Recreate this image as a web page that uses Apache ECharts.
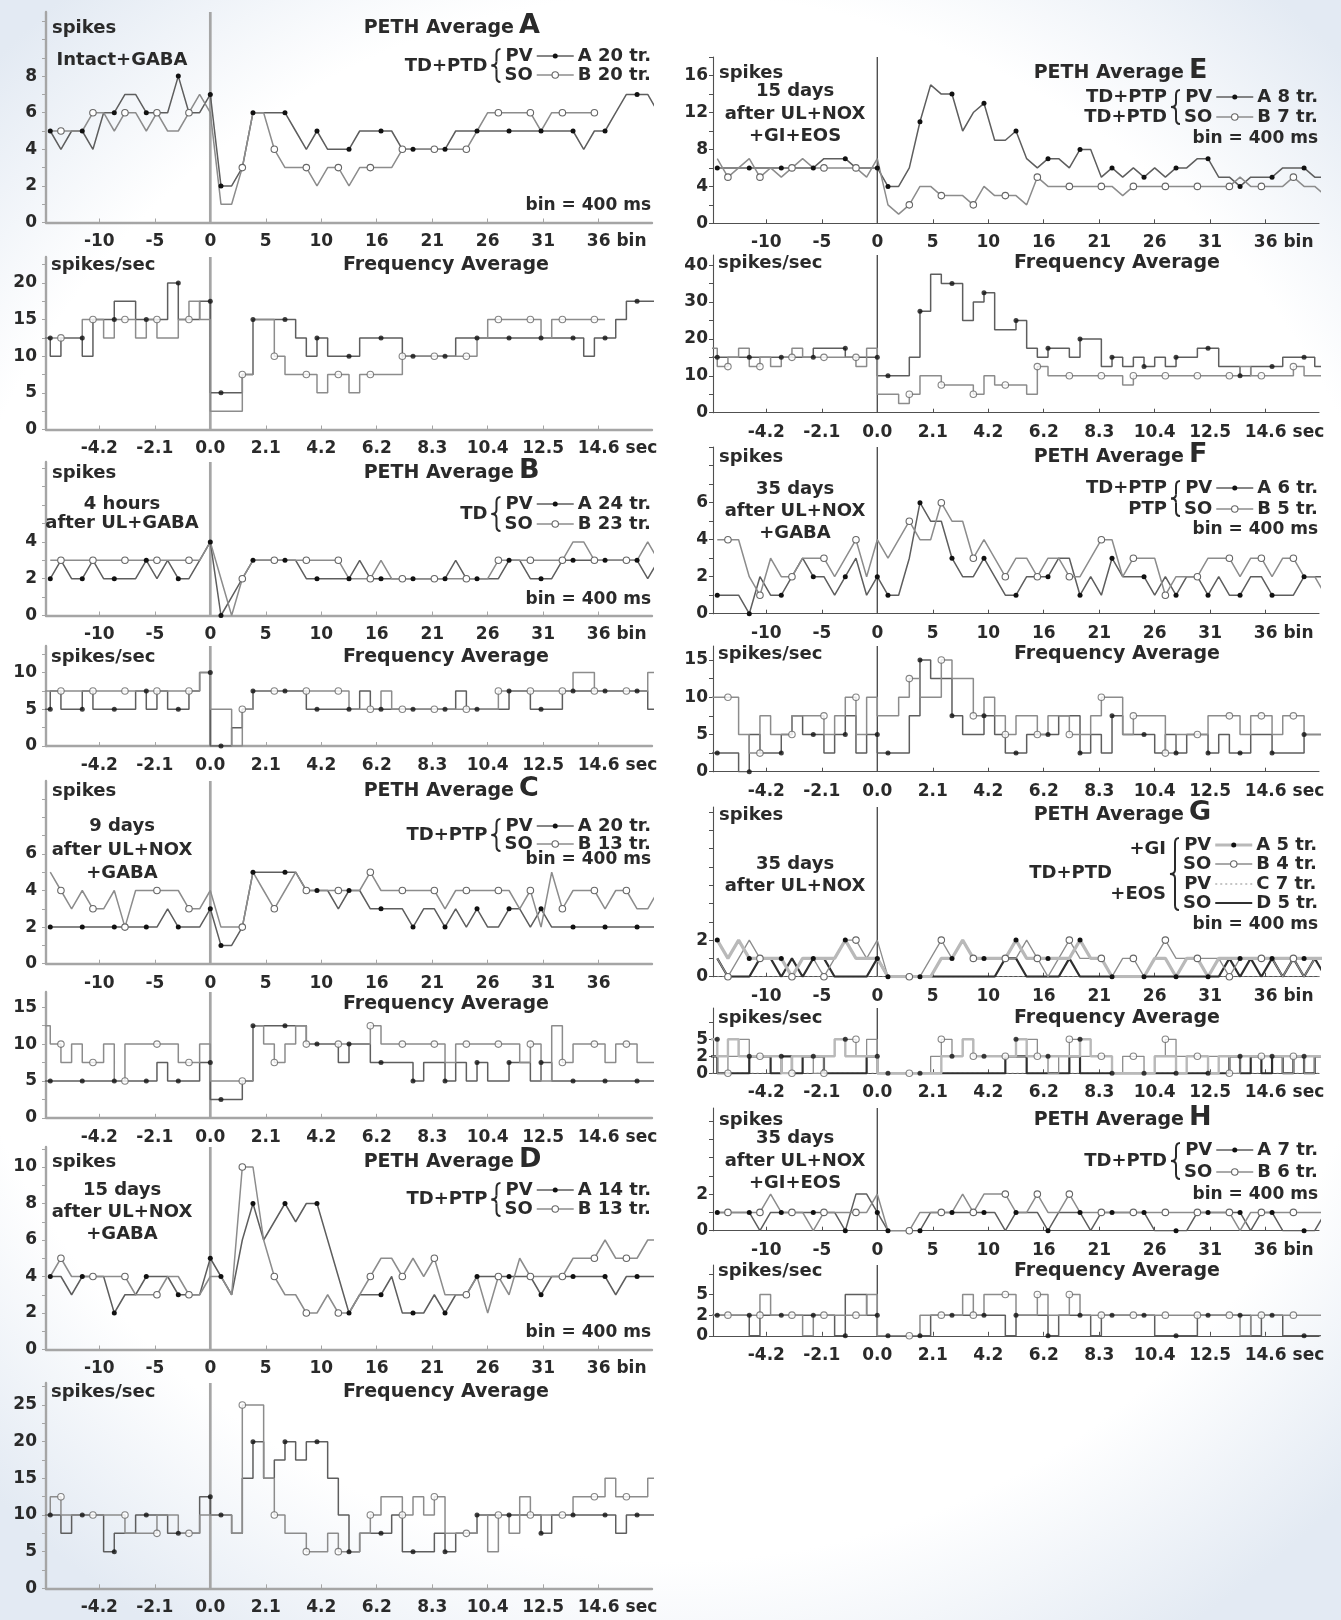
<!DOCTYPE html>
<html>
<head>
<meta charset="utf-8">
<title>PETH and frequency averages</title>
<script src="https://cdn.jsdelivr.net/npm/echarts@6/dist/echarts.min.js"></script>
<style>
  html, body { margin: 0; padding: 0; }
  body { width: 1341px; height: 1620px;
         background: radial-gradient(ellipse 72% 62% at 50% 48%, #ffffff 78%, #e3eaf3 100%); }
  #chart { width: 1341px; height: 1620px; }
</style>
</head>
<body>
<div id="chart"></div>
<script>
// ---------------------------------------------------------------------------
// Peri-event time histograms, 400 ms bins, bins -15 … 42 (58 values per trace)
// ---------------------------------------------------------------------------
const FIRST_BIN = -15;
const BIN_SEC = 0.4;

// x-axis ticks every 2.08 s (5.2 bins)
const tickBins = [-10.4, -5.2, 0, 5.2, 10.4, 15.6, 20.8, 26, 31.2, 36.4];
const binTickLabels = ['-10', '-5', '0', '5', '10', '16', '21', '26', '31', '36'];
const secTickLabels = ['-4.2', '-2.1', '0.0', '2.1', '4.2', '6.2', '8.3', '10.4', '12.5', '14.6'];

// A: Intact+GABA
const A_pv = [5,4,5,5,4,6,6,7,7,6,6,6,8,6,6,7,
  2,2,3,6,6,6,6,5,4,5, 4,4,4,5,5,5,5,4,4,4, 4,4,5,5,5,5,5,5,5,5, 5,5,5,5,4,5,5,6,7,7, 7,6];
const A_so = [5,5,5,5,6,6,5,6,6,5,6,5,5,6,7,6,
  1,1,3,6,6,4,3,3,3,2, 3,3,2,3,3,3,3,4,4,4, 4,4,4,4,5,6,6,6,6,6, 5,6,6,6,6,6,null,null,null,null, null,null];

// B: 4 hours after UL+GABA
const B_pv = [2,3,2,2,3,2,2,2,2,3,2,3,2,2,3,4,
  0,1,2,3,3,3,3,3,2,2, 2,2,2,3,2,2,2,2,2,2, 2,2,3,2,2,2,2,3,3,2, 2,2,3,3,3,3,3,3,3,3, 2,3];
const B_so = [3,3,3,3,3,3,3,3,3,3,3,3,3,3,3,4,
  2,0,2,3,3,3,3,3,3,3, 3,3,2,2,2,3,2,2,2,2, 2,2,2,2,2,2,3,3,3,3, 3,3,3,4,4,3,3,3,3,3, 4,3];

// C: 9 days after UL+NOX+GABA
const C_pv = [2,2,2,2,2,2,2,2,2,2,2,3,2,2,2,3,
  1,1,2,5,5,5,5,5,4,4, 4,3,4,4,3,3,3,3,2,3, 3,2,3,2,3,2,2,3,3,2, 3,2,2,2,2,2,2,2,2,2, 2,2];
const C_so = [5,4,3,4,3,3,4,2,4,4,4,4,4,3,3,4,
  2,2,2,5,4,3,4,5,4,4, 4,4,4,4,5,4,4,4,4,4, 4,3,4,4,4,4,4,4,3,4, 2,5,3,4,4,4,3,4,4,3, 3,4];

// D: 15 days after UL+NOX+GABA
const D_pv = [4,4,3,4,4,4,2,3,3,4,4,4,3,3,3,5,
  4,3,6,8,6,7,8,7,8,8, 6,4,2,3,3,3,4,2,2,2, 3,2,3,3,4,4,4,4,4,4, 3,4,4,4,4,4,4,3,4,4, 4,4];
const D_so = [4,5,4,4,4,4,4,4,3,3,3,4,4,3,3,4,
  4,3,10,10,6,4,3,3,2,2, 3,2,2,3,4,5,5,4,5,4, 5,3,3,3,4,2,4,3,5,4, 4,4,4,5,5,5,6,5,5,5, 6,6];

// E: 15 days after UL+NOX+GI+EOS
const E_pv = [6,6,6,6,6,6,6,6,6,6,7,7,7,6,6,6,
  4,4,6,11,15,14,14,10,12,13, 9,9,10,7,6,7,7,6,8,8, 5,6,5,6,5,6,5,6,6,7, 7,5,5,4,5,5,5,6,6,6, 5,5];
const E_so = [7,5,6,7,5,6,5,6,7,6,6,6,6,6,5,7,
  2,1,2,4,4,3,3,3,2,4, 3,3,3,2,5,4,4,4,4,4, 4,4,3,4,4,4,4,4,4,4, 4,4,4,5,4,4,4,4,5,4, 4,3];

// F: 35 days after UL+NOX+GABA
const F_pv = [1,1,1,0,2,1,1,2,3,2,2,1,2,3,1,2,
  1,1,3,6,5,5,3,2,2,3, 2,1,1,2,2,2,3,3,1,2, 1,3,2,2,2,1,2,1,2,2, 1,2,1,1,2,2,1,1,1,2, 2,2];
const F_so = [4,4,4,2,1,3,2,2,3,3,3,2,3,4,2,4,
  3,4,5,4,4,6,5,5,3,4, 3,2,3,3,2,3,3,2,2,3, 4,4,2,3,3,3,1,2,2,2, 3,3,3,2,3,3,2,3,3,2, 2,1];

// G: 35 days after UL+NOX, +GI and +EOS
const G_pv_gi = [2,1,2,1,1,1,1,0,1,1,1,1,2,1,1,1,
  0,0,0,0,0,1,1,2,1,1, 1,1,2,1,1,1,1,1,2,1, 1,0,0,0,0,1,1,0,1,1, 0,1,1,1,1,1,1,1,1,1, 1,1];
const G_so_gi = [1,0,1,2,1,1,1,0,1,1,0,1,2,2,1,2,
  0,0,0,0,1,2,1,2,1,1, 1,1,1,2,1,0,1,2,1,1, 1,0,1,1,0,1,2,1,1,1, 1,1,0,1,1,1,1,0,1,0, 1,1];
const G_pv_eos = [0,0,0,0,0,0,0,0,0,0,0,0,0,0,0,0,
  0,0,0,0,0,0,0,0,0,0, 0,0,0,0,0,0,0,0,0,0, 0,0,0,0,0,0,0,0,0,0, 0,0,0,0,0,0,0,0,0,0, 0,0];
const G_so_eos = [1,0,0,0,1,1,0,1,0,1,1,0,0,0,0,1,
  0,0,0,0,0,0,0,0,0,0, 0,1,1,0,0,0,0,1,0,0, 0,0,0,0,0,0,0,0,0,0, 0,0,1,0,1,0,1,0,1,0, 1,0];

// H: 35 days after UL+NOX+GI+EOS
const H_pv = [1,1,1,1,0,1,1,1,1,1,1,1,0,2,2,1,
  0,0,0,0,1,1,1,1,1,1, 1,0,1,1,1,0,1,1,1,0, 1,1,1,1,1,0,0,0,0,1, 1,1,1,1,0,1,1,0,0,0, 0,1];
const H_so = [1,1,1,1,1,2,1,1,1,0,1,1,1,1,1,2,
  0,0,0,1,1,1,1,2,1,2, 2,2,1,1,2,1,1,2,1,1, 1,1,1,1,1,1,1,1,1,1, 1,1,1,0,1,1,1,1,1,1, 1,1];

// ---------------------------------------------------------------------------
const FONT = '"DejaVu Sans", "Liberation Sans", Arial, sans-serif';
const INK = '#2a2a2a';
const X_MIN = -15.4, X_MAX = 41.4;
const TICK_FONT = 17, X_LABEL_MARGIN = 11;

const COLS = [
  { left: 46,  width: 606, textRight: 651, spikesX: 52,  condX: 122, titleRight: 514,  freqTitleX: 446,
    axis: '#a5a5a5', axisW: 2.4, yMargin: 9 },
  { left: 713, width: 606, textRight: 1318, spikesX: 719, condX: 795, titleRight: 1184, freqTitleX: 1117,
    axis: '#505050', axisW: 1.1, yMargin: 5 }
];

const STYLE = {
  pv:  { color: '#5e5e5e', width: 1.5, marker: 'A' },
  so:  { color: '#8c8c8c', width: 1.5, marker: 'B' },
  pvT: { color: '#b9b9b9', width: 3.2, marker: 'A' },
  soT: { color: '#8c8c8c', width: 1.3, marker: 'B' },
  dot: { color: '#8c8c8c', width: 1.1, marker: null, dash: [2, 3] },
  dark:{ color: '#303030', width: 2.2, marker: null }
};

const panels = [
  { id: 'A', col: 0, traces: [[A_pv, 'pv'], [A_so, 'so']], binUnit: true, spikesPerSec: true,
    peth: { top: 12, zero: 222.5, ppu: 18.3, labels: [0, 2, 4, 6, 8], step: 1 },
    freq: { top: 257, zero: 429.5, ppu: 7.33, labels: [0, 5, 10, 15, 20], step: 2.5 },
    headY: 28, cond: ['Intact+GABA'], condY: [60], binY: 206, freqY: 265,
    legend: { rows: [['PV', 'A 20 tr.', 'pv'], ['SO', 'B 20 tr.', 'so']], y: [56, 75],
              prefix: [['TD+PTD', 66]] } },
  { id: 'B', col: 0, traces: [[B_pv, 'pv'], [B_so, 'so']], binUnit: true, spikesPerSec: true,
    peth: { top: 462, zero: 615.5, ppu: 18.4, labels: [0, 2, 4], step: 1 },
    freq: { top: 646, zero: 746, ppu: 7.34, labels: [0, 5, 10], step: 2.5 },
    headY: 473, cond: ['4 hours', 'after UL+GABA'], condY: [504, 523], binY: 600, freqY: 657,
    legend: { rows: [['PV', 'A 24 tr.', 'pv'], ['SO', 'B 23 tr.', 'so']], y: [504, 524],
              prefix: [['TD', 514]] } },
  { id: 'C', col: 0, traces: [[C_pv, 'pv'], [C_so, 'so']], binUnit: false, spikesPerSec: false,
    peth: { top: 781, zero: 963.7, ppu: 18.3, labels: [0, 2, 4, 6], step: 1 },
    freq: { top: 992, zero: 1117.8, ppu: 7.37, labels: [0, 5, 10, 15], step: 2.5 },
    headY: 791, cond: ['9 days', 'after UL+NOX', '+GABA'], condY: [826, 850, 873], binY: 860, freqY: 1004,
    legend: { rows: [['PV', 'A 20 tr.', 'pv'], ['SO', 'B 13 tr.', 'so']], y: [826, 844],
              prefix: [['TD+PTP', 835]] } },
  { id: 'D', col: 0, traces: [[D_pv, 'pv'], [D_so, 'so']], binUnit: true, spikesPerSec: true,
    peth: { top: 1147, zero: 1349.5, ppu: 18.25, labels: [0, 2, 4, 6, 8, 10], step: 1 },
    freq: { top: 1383, zero: 1588.3, ppu: 7.33, labels: [0, 5, 10, 15, 20, 25], step: 2.5 },
    headY: 1162, cond: ['15 days', 'after UL+NOX', '+GABA'], condY: [1190, 1212, 1234], binY: 1333, freqY: 1392,
    legend: { rows: [['PV', 'A 14 tr.', 'pv'], ['SO', 'B 13 tr.', 'so']], y: [1190, 1209],
              prefix: [['TD+PTP', 1199]] } },
  { id: 'E', col: 1, traces: [[E_pv, 'pv'], [E_so, 'so']], binUnit: true, spikesPerSec: true,
    peth: { top: 57, zero: 223.3, ppu: 9.23, labels: [0, 4, 8, 12, 16], step: 2 },
    freq: { top: 255, zero: 412.7, ppu: 3.69, labels: [0, 10, 20, 30, 40], step: 5 },
    headY: 73, cond: ['15 days', 'after UL+NOX', '+GI+EOS'], condY: [91, 114, 136], binY: 139, freqY: 263,
    legend: { rows: [['PV', 'A 8 tr.', 'pv'], ['SO', 'B 7 tr.', 'so']], y: [97, 117],
              prefix: [['TD+PTP', 97], ['TD+PTD', 117]] } },
  { id: 'F', col: 1, traces: [[F_pv, 'pv'], [F_so, 'so']], binUnit: true, spikesPerSec: true,
    peth: { top: 447, zero: 613.7, ppu: 18.5, labels: [0, 2, 4, 6], step: 1 },
    freq: { top: 646, zero: 771.7, ppu: 7.45, labels: [0, 5, 10, 15], step: 2.5 },
    headY: 457, cond: ['35 days', 'after UL+NOX', '+GABA'], condY: [489, 511, 533], binY: 530, freqY: 654,
    legend: { rows: [['PV', 'A 6 tr.', 'pv'], ['SO', 'B 5 tr.', 'so']], y: [488, 509],
              prefix: [['TD+PTP', 488], ['PTP', 509]] } },
  { id: 'G', col: 1, traces: [[G_pv_eos, 'dot'], [G_so_eos, 'dark'], [G_so_gi, 'soT'], [G_pv_gi, 'pvT']],
    binUnit: true, spikesPerSec: true,
    peth: { top: 807, zero: 976.7, ppu: 18.3, labels: [0, 2], step: 1 },
    freq: { top: 1008, zero: 1073.3, ppu: 6.8, labels: [0, 2.5, 5], step: 2.5, names: ['0', '2', '5'] },
    headY: 815, cond: ['35 days', 'after UL+NOX'], condY: [864, 886], binY: 925, freqY: 1018,
    legend: { rows: [['PV', 'A 5 tr.', 'pvT'], ['SO', 'B 4 tr.', 'soT'], ['PV', 'C 7 tr.', 'dot'], ['SO', 'D 5 tr.', 'dark']],
              y: [845, 864, 884, 903], prefix: [['+GI', 849], ['+EOS', 894]], outer: ['TD+PTD', 873] } },
  { id: 'H', col: 1, traces: [[H_pv, 'pv'], [H_so, 'so']], binUnit: true, spikesPerSec: true,
    peth: { top: 1108, zero: 1230.7, ppu: 18.3, labels: [0, 2], step: 1 },
    freq: { top: 1265, zero: 1335.8, ppu: 8.26, labels: [0, 2.5, 5], step: 2.5, names: ['0', '2', '5'] },
    headY: 1120, cond: ['35 days', 'after UL+NOX', '+GI+EOS'], condY: [1138, 1161, 1183], binY: 1195, freqY: 1271,
    legend: { rows: [['PV', 'A 7 tr.', 'pv'], ['SO', 'B 6 tr.', 'so']], y: [1150, 1172],
              prefix: [['TD+PTD', 1161]] } }
];

// ---------------------------------------------------------------------------
const grids = [], xAxes = [], yAxes = [], series = [], graphics = [];
const unitLabels = [];   // [gridIndex, unit text, last tick label, y of the axis line]
const measureCtx = document.createElement('canvas').getContext('2d');
function textWidth(s, size) {
  measureCtx.font = 'bold ' + size + 'px ' + FONT;
  return measureCtx.measureText(s).width;
}

function markerAt(kind, b) {
  if (kind === 'A') return b <= 0 ? (b + 15) % 3 === 0 : (b - 1) % 3 === 0;
  if (kind === 'B') return b <= 0 ? (b + 14) % 3 === 0 : b % 3 === 0;
  return false;
}

function tickIndex(v) {
  let best = 0;
  tickBins.forEach((t, i) => { if (Math.abs(t - v) < Math.abs(tickBins[best] - v)) best = i; });
  return best;
}

function addGrid(col, geo, tickLabels, unit) {
  const c = COLS[col];
  const gi = grids.length;
  const yMax = (geo.zero - geo.top) / geo.ppu;
  grids.push({ left: c.left, top: geo.top, width: c.width, height: geo.zero - geo.top });
  const minor = [];
  for (let v = 0; v <= yMax + 1e-6; v += geo.step) minor.push(+v.toFixed(3));
  const labelStyle = { fontFamily: FONT, fontWeight: 'bold', fontSize: TICK_FONT, color: INK };
  xAxes.push({
    type: 'value', gridIndex: gi, min: X_MIN, max: X_MAX,
    axisLine: { show: true, onZero: false, lineStyle: { color: c.axis, width: c.axisW } },
    axisTick: { show: true, inside: true, length: 4, customValues: tickBins,
                lineStyle: { color: c.axis, width: 1 } },
    axisLabel: Object.assign({
      show: true, margin: X_LABEL_MARGIN, customValues: tickBins,
      showMinLabel: true, showMaxLabel: true, hideOverlap: false,
      formatter: (v) => tickLabels[tickIndex(v)]
    }, labelStyle),
    splitLine: { show: false }
  });
  if (unit) unitLabels.push([gi, unit, tickLabels[tickLabels.length - 1]]);
  yAxes.push({
    type: 'value', gridIndex: gi, min: 0, max: yMax,
    axisLine: { show: true, onZero: false, lineStyle: { color: c.axis, width: c.axisW } },
    axisTick: { show: true, length: 4, customValues: minor, lineStyle: { color: c.axis, width: 1 } },
    axisLabel: Object.assign({
      show: true, margin: c.yMargin, customValues: geo.labels, showMinLabel: true, showMaxLabel: true,
      formatter: (v) => {
        const i = geo.labels.findIndex(l => Math.abs(l - v) < 1e-6);
        return geo.names && i >= 0 ? geo.names[i] : String(v);
      }
    }, labelStyle),
    splitLine: { show: false }
  });
  // vertical line at stimulus onset
  series.push({
    type: 'line', xAxisIndex: gi, yAxisIndex: gi, silent: true, symbol: 'none', z: 1,
    data: [[0, 0], [0, yMax]],
    lineStyle: { color: c.axis, width: c.axisW + 0.3 }
  });
  return gi;
}

function markerStyle(kind) {
  return kind === 'B'
    ? { symbolSize: 6.5, itemStyle: { color: '#ffffff', borderColor: '#666', borderWidth: 1.1 } }
    : { symbolSize: 5, itemStyle: { color: '#111', borderWidth: 0 } };
}

function addPeth(gi, vals, styleKey) {
  const st = STYLE[styleKey];
  const ms = markerStyle(st.marker);
  series.push({
    type: 'line', xAxisIndex: gi, yAxisIndex: gi, silent: true, z: 3,
    data: vals.map((v, i) => [FIRST_BIN + i, v == null ? '-' : v]),
    showAllSymbol: true,
    symbol: (val, p) => (st.marker && vals[p.dataIndex] != null &&
                         markerAt(st.marker, FIRST_BIN + p.dataIndex)) ? 'circle' : 'none',
    symbolSize: ms.symbolSize, itemStyle: ms.itemStyle,
    lineStyle: { color: st.color, width: st.width, type: st.dash || 'solid' },
    emphasis: { disabled: true }
  });
}

// spikes per bin -> spikes per second, drawn as a staircase:
// pre-stimulus bins end at their own position, post-stimulus bins start at it
function addFreq(gi, vals, styleKey) {
  const st = STYLE[styleKey];
  const rate = vals.map(v => v == null ? null : v / BIN_SEC);
  const segs = [];
  rate.forEach((r, i) => {
    const b = FIRST_BIN + i;
    if (b <= 0) segs.push([b - 1, b, r]);
    if (b === 1) segs.push([0, 1, r]);
    if (b >= 1) segs.push([b, b + 1, r]);
  });
  const pts = [];
  segs.forEach(([x0, x1, r]) => {
    if (r == null) { pts.push([x0, '-']); return; }
    pts.push([x0, r], [x1, r]);
  });
  series.push({
    type: 'line', xAxisIndex: gi, yAxisIndex: gi, silent: true, z: 3, symbol: 'none',
    data: pts,
    lineStyle: { color: st.color, width: Math.min(st.width, 2.4), type: st.dash || 'solid' },
    emphasis: { disabled: true }
  });
  if (st.marker) {
    const ms = markerStyle(st.marker);
    const mk = [];
    rate.forEach((r, i) => {
      const b = FIRST_BIN + i;
      if (r != null && markerAt(st.marker, b)) mk.push([b, r]);
    });
    series.push({
      type: 'scatter', xAxisIndex: gi, yAxisIndex: gi, silent: true, z: 4,
      data: mk, symbol: 'circle', symbolSize: ms.symbolSize, itemStyle: ms.itemStyle,
      emphasis: { disabled: true }
    });
  }
}

// ---------------------------------------------------------------------------
// text helpers
function text(x, y, s, size, align, vAlign) {
  graphics.push({
    type: 'text', x: x, y: y, silent: true, z: 10,
    style: { text: s, fill: INK, font: 'bold ' + size + 'px ' + FONT,
             textAlign: align || 'left', textVerticalAlign: vAlign || 'middle',
             align: align || 'left', verticalAlign: vAlign || 'middle' }
  });
}
function seg(x1, y1, x2, y2, color, width, dash) {
  graphics.push({ type: 'line', silent: true, z: 10, shape: { x1, y1, x2, y2 },
                  style: { stroke: color, lineWidth: width, lineDash: dash || null } });
}
function dot(cx, cy, kind) {
  if (kind === 'B') graphics.push({ type: 'circle', silent: true, z: 11, shape: { cx, cy, r: 3.2 },
                                    style: { fill: '#fff', stroke: '#666', lineWidth: 1.1 } });
  else graphics.push({ type: 'circle', silent: true, z: 11, shape: { cx, cy, r: 2.5 },
                       style: { fill: '#111' } });
}
function curve(x1, y1, cx, cy, x2, y2) {
  graphics.push({ type: 'bezierCurve', silent: true, z: 10,
                  shape: { x1, y1, x2, y2, cpx1: cx, cpy1: cy },
                  style: { stroke: INK, lineWidth: 2, fill: null } });
}
function brace(x, yT, yB) {
  const ym = (yT + yB) / 2;
  curve(x + 5, yT, x + 1, yT, x + 1, yT + 5);
  seg(x + 1, yT + 5, x + 1, ym - 4, INK, 2);
  curve(x + 1, ym - 4, x + 1, ym, x - 4, ym);
  curve(x - 4, ym, x + 1, ym, x + 1, ym + 4);
  seg(x + 1, ym + 4, x + 1, yB - 5, INK, 2);
  curve(x + 1, yB - 5, x + 1, yB, x + 5, yB);
}

function drawLegend(p) {
  const c = COLS[p.col];
  const L = p.legend, fs = 18;
  const labelW = Math.max(...L.rows.map(r => textWidth(r[1], fs)));
  const labelX = c.textRight - labelW;
  const nameR = labelX - 45;
  const nameW = Math.max(...L.rows.map(r => textWidth(r[0], fs)));
  L.rows.forEach((r, i) => {
    const y = L.y[i];
    const st = STYLE[r[2]];
    text(labelX, y, r[1], fs, 'left');
    seg(labelX - 41, y, labelX - 4, y, st.color, Math.min(st.width, 3), st.dash);
    if (st.marker) dot(labelX - 22.5, y, st.marker);
    text(nameR, y, r[0], fs, 'right');
  });
  const bx = nameR - nameW - 9;
  brace(bx, L.y[0] - 7, L.y[L.y.length - 1] + 7);
  L.prefix.forEach(([s, y]) => text(bx - 8, y, s, fs, 'right'));
  if (L.outer) text(bx - 62, L.outer[1], L.outer[0], fs, 'right');
}

// ---------------------------------------------------------------------------
panels.forEach(p => {
  const c = COLS[p.col];
  const gPeth = addGrid(p.col, p.peth, binTickLabels, p.binUnit ? ' bin' : null);
  const gFreq = addGrid(p.col, p.freq, secTickLabels, ' sec');
  p.traces.forEach(([vals, st]) => { addPeth(gPeth, vals, st); addFreq(gFreq, vals, st); });

  text(c.spikesX, p.headY, 'spikes', 18, 'left');
  text(c.titleRight, p.headY, 'PETH Average', 19, 'right');
  text(c.titleRight + 5, p.headY - 2, p.id, 27, 'left');
  p.cond.forEach((s, i) => text(c.condX, p.condY[i], s, 18, 'center'));
  text(c.textRight, p.binY, 'bin = 400 ms', 17, 'right');
  if (p.spikesPerSec) text(c.spikesX - 1, p.freqY, 'spikes/sec', 18, 'left');
  text(c.freqTitleX, p.freqY, 'Frequency Average', 19, 'center');
  drawLegend(p);
});

const chart = echarts.init(document.getElementById('chart'), null, { renderer: 'canvas' });
chart.setOption({
  animation: false,
  backgroundColor: 'transparent',
  grid: grids, xAxis: xAxes, yAxis: yAxes, series: series, graphic: graphics
});

// unit words ("bin", "sec") follow the last tick label of each x axis
unitLabels.forEach(([gi, unit, last]) => {
  const [px, py] = chart.convertToPixel({ xAxisIndex: gi, yAxisIndex: gi }, [tickBins[tickBins.length - 1], 0]);
  text(px + textWidth(last, TICK_FONT) / 2, py + X_LABEL_MARGIN, unit, TICK_FONT, 'left', 'top');
});
chart.setOption({ graphic: graphics });
</script>
</body>
</html>
